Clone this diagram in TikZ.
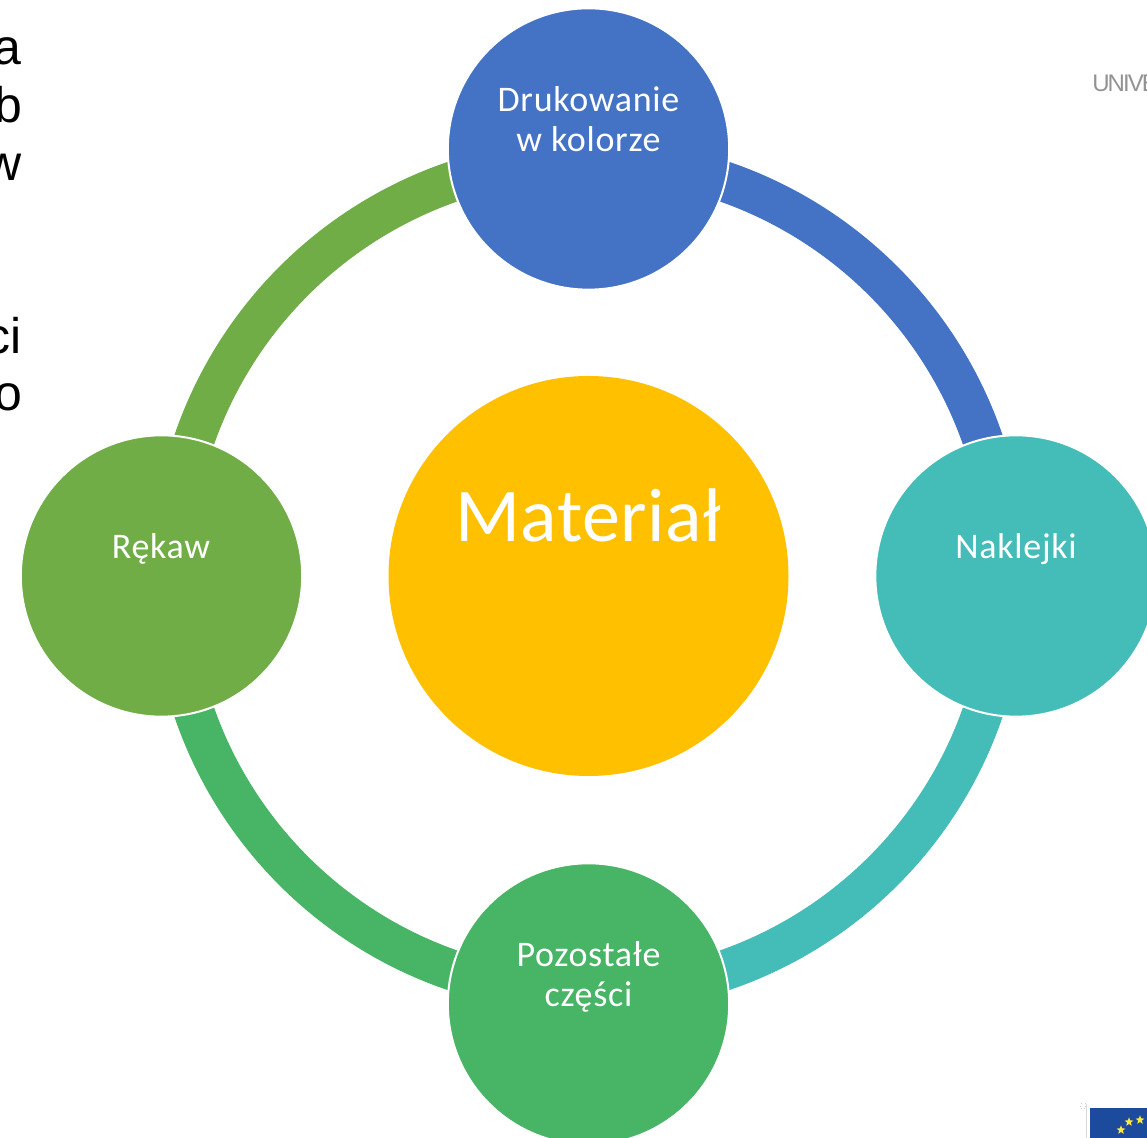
\documentclass[tikz,border=0pt]{standalone}
\usepackage{fontspec}
\setmainfont{Carlito}
\newfontfamily\sidefont{Liberation Sans}
\newfontfamily\logofont[LetterSpace=-8]{Liberation Sans}
\newfontfamily\lblfont[LetterSpace=2]{Carlito}
\newfontfamily\matfont[LetterSpace=0.7]{Carlito}
\usetikzlibrary{shapes.geometric}
\definecolor{cblue}{HTML}{4472C4}
\definecolor{cteal}{HTML}{44BCB8}
\definecolor{cgreen}{HTML}{47B565}
\definecolor{colive}{HTML}{70AD47}
\definecolor{cgold}{HTML}{FFC000}
\definecolor{cflag}{HTML}{1C4A9C}
\definecolor{cstar}{HTML}{FFE93B}
\tikzset{
  x=0.75pt,y=0.75pt,
  disc/.style={circle,draw=white,line width=1.5pt,inner sep=0pt,minimum size=211pt},
  label text/.style={text=white,font=\lblfont\fontsize{27pt}{30pt}\selectfont,align=center,inner sep=0pt},
  ringarc/.style={line width=30.4pt,line cap=butt},
  side text/.style={text=black,font=\sidefont\fontsize{37.5pt}{44pt}\selectfont,anchor=base east,inner sep=0pt},
  flagstar/.style={star,star points=5,star point ratio=2.4,fill=cstar,inner sep=0pt,minimum size=7pt},
}
\begin{document}
\begin{tikzpicture}
\useasboundingbox (0,0) rectangle (1147,1138);
\clip (0,0) rectangle (1147,1138);
\fill[white] (0,0) rectangle (1147,1138);
% ring segments, ending under the discs
\coordinate (ringtop) at (588.5,979);
\coordinate (ringright) at (1005.5,562);
\coordinate (ringbottom) at (588.5,145);
\coordinate (ringleft) at (171.5,562);
\draw[ringarc,cblue] (ringtop) arc[start angle=90,end angle=0,radius=312.75pt];
\draw[ringarc,cteal] (ringright) arc[start angle=0,end angle=-90,radius=312.75pt];
\draw[ringarc,cgreen] (ringbottom) arc[start angle=-90,end angle=-180,radius=312.75pt];
\draw[ringarc,colive] (ringleft) arc[start angle=180,end angle=90,radius=312.75pt];
% discs
\node[disc,fill=cblue] (top) at (588.5,989) {};
\node[disc,fill=cteal] (right) at (1016,562) {};
\node[disc,fill=cgreen] (bottom) at (588.5,134) {};
\node[disc,fill=colive] (left) at (161.5,562) {};
\node[circle,fill=cgold,inner sep=0pt,minimum size=300pt] (centre) at (588.5,562) {};
% labels
\node[label text] (t1) at (588.5,1018.5) {Drukowanie\\w kolorze};
\node[label text] (t2) at (1016,589) {Naklejki};
\node[label text] (t3) at (588.5,161.5) {Pozostałe\\części};
\node[label text] (t4) at (161,589) {Rękaw};
\node[label text,font=\matfont\fontsize{57pt}{60pt}\selectfont] (t5) at (588.5,623) {Materiał};
% clipped slide text on the left
\node[side text] (s1) at (22,1073) {a};
\node[side text] (s2) at (23,1015) {b};
\node[side text] (s3) at (22,957) {w};
\node[side text] (s4) at (22,784) {ci};
\node[side text] (s5) at (23,727) {o};
% clipped logo text and flag
\node[anchor=base west,inner sep=0pt,text=gray!85,font=\logofont\fontsize{18pt}{20pt}\selectfont] (uni) at (1092,1046) {UNIVE};
\draw[black!15,line width=0.5pt] (1086.5,0) -- (1086.5,34);
\node[draw=black!20,dotted,line width=0.4pt,minimum size=3.5pt,inner sep=0pt] (grip) at (1083,32) {};
\fill[cflag] (1090,0) rectangle (1147,30);
\node[flagstar] (f1) at (1129,16) {};
\node[flagstar] (f2) at (1140,18) {};
\node[flagstar] (f3) at (1121,8) {};
\end{tikzpicture}
\end{document}
